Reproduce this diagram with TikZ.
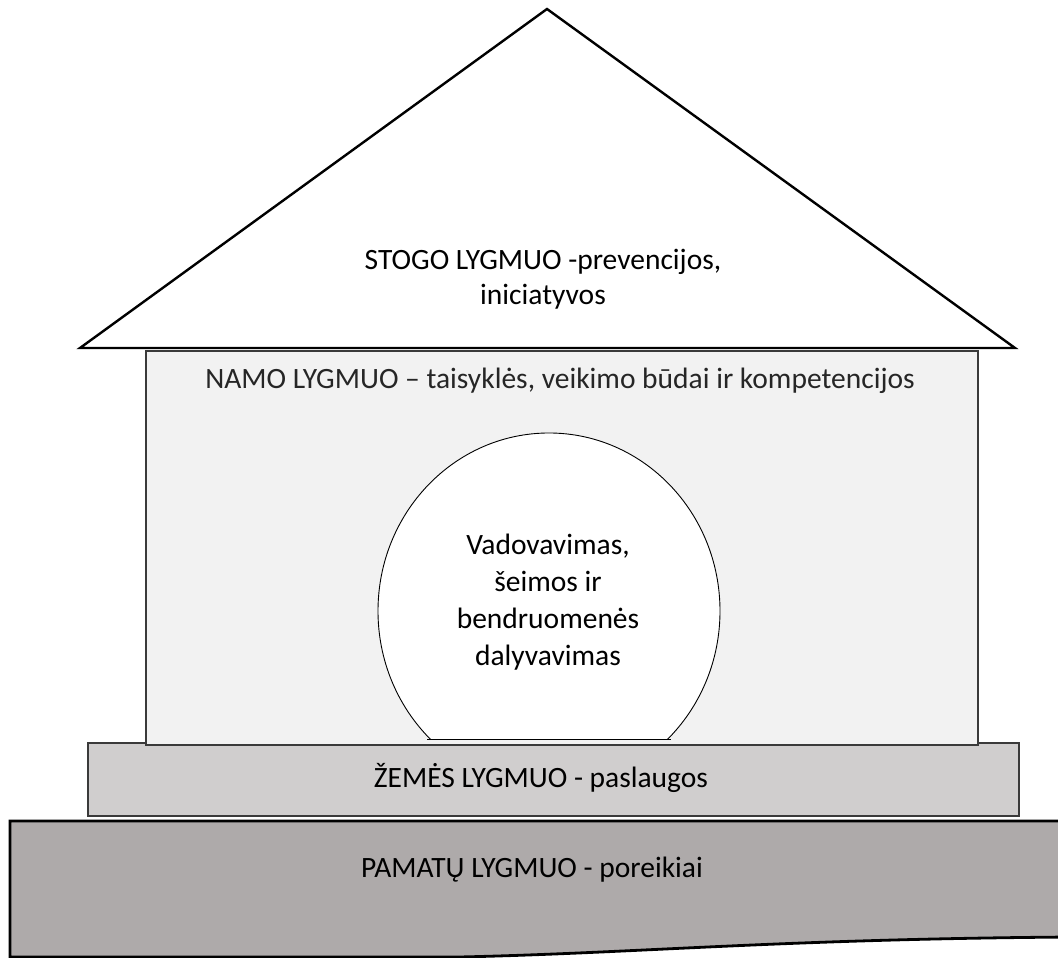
\documentclass[tikz,border=0pt]{standalone}
\usepackage{fontspec}
\setmainfont{Carlito}
\definecolor{housefill}{HTML}{F2F2F2}
\definecolor{groundfill}{HTML}{D0CECE}
\definecolor{basefill}{HTML}{AEAAAA}
\definecolor{edgegray}{HTML}{3A3A3A}
\begin{document}
\begin{tikzpicture}[x=1pt,y=1pt,
  lbl/.style={font=\fontsize{29.5}{35}\selectfont, align=center, inner sep=0pt, text=black},
  roofshape/.style={draw=black, line width=2.4pt, fill=white, line join=miter},
  houseshape/.style={draw=edgegray, line width=1.3pt, fill=housefill},
  groundshape/.style={draw=edgegray, line width=1.3pt, fill=groundfill},
  baseshape/.style={draw=black, line width=2.8pt, fill=basefill},
  doorshape/.style={draw=black, line width=0.9pt, fill=white}]
\useasboundingbox (0,0) rectangle (1058,958);
\clip (0,0) rectangle (1058,958);
% foundation
\path[baseshape] (10,137) -- (1075,137) -- (1075,21)
  .. controls (780,19) and (640,5) .. (460,1) -- (10,1) -- cycle;
% ground
\path[groundshape] (88,142) rectangle (1019,215);
% house body
\path[houseshape] (146,213) rectangle (978,607);
% roof
\path[roofshape] (547,949) -- (1015,610) -- (80,610) -- cycle;
% door / circle
\begin{scope}
  \clip (300,219) rectangle (800,700);
  \path[doorshape] (549,347) ellipse [x radius=171, y radius=178];
\end{scope}
\draw[black, line width=0.9pt] (427,219) -- (671,219);
% texts
\node[lbl] (roof) at (543,679) {STOGO LYGMUO -prevencijos,\\iniciatyvos};
\node[lbl, text=black!85] (house) at (560,577) {NAMO LYGMUO -- taisyklės, veikimo būdai ir kompetencijos};
\node[lbl, font=\fontsize{29.5}{37}\selectfont] (door) at (548,356) {Vadovavimas,\\šeimos ir\\bendruomenės\\dalyvavimas};
\node[lbl] (ground) at (541,180) {ŽEMĖS LYGMUO - paslaugos};
\node[lbl] (base) at (532,88) {PAMATŲ LYGMUO - poreikiai};
\end{tikzpicture}
\end{document}
